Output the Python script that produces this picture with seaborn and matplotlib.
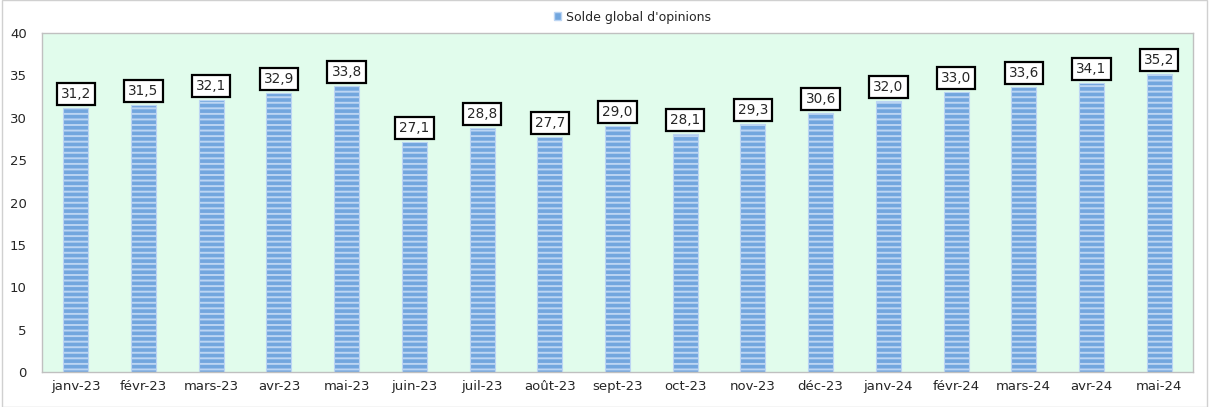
import matplotlib
matplotlib.use("Agg")
import matplotlib.pyplot as plt
import seaborn as sns
import pandas as pd
from matplotlib.patches import Patch

# Data
months = ["janv-23", "févr-23", "mars-23", "avr-23", "mai-23", "juin-23", "juil-23",
          "août-23", "sept-23", "oct-23", "nov-23", "déc-23", "janv-24", "févr-24",
          "mars-24", "avr-24", "mai-24"]
solde = [31.2, 31.5, 32.1, 32.9, 33.8, 27.1, 28.8, 27.7, 29.0, 28.1, 29.3, 30.6,
         32.0, 33.0, 33.6, 34.1, 35.2]
series_name = "Solde global d'opinions"

df = pd.DataFrame({"Mois": months, "Solde": solde})

sns.set_style("white")
plt.rcParams['font.family'] = ['DejaVu Sans']
plt.rcParams['hatch.linewidth'] = 1.4

fig = plt.figure(figsize=(12.12, 4.07), dpi=100)
ax = fig.add_axes([42 / 1212, 1 - 372 / 407, (1193 - 42) / 1212, (372 - 33) / 407])

# === Bars ===
sns.barplot(data=df, x="Mois", y="Solde", ax=ax, color="#72a6de", width=0.37,
            saturation=1, errorbar=None)
for p in ax.patches:
    p.set_hatch("---")
    p.set_edgecolor("#bcd5f3")
    p.set_linewidth(0.8)

# Data labels in boxes
for i, v in enumerate(solde):
    ax.annotate(f"{v:.1f}".replace(".", ","), xy=(i, v), xytext=(0, 5),
                textcoords="offset points", ha="center", va="bottom", fontsize=9.8,
                bbox=dict(boxstyle="square,pad=0.3", fc="white", ec="black", lw=1.6))

ax.set_facecolor("#e1fcec")
ax.set_ylim(0, 40)
ax.set_xlim(-0.5, len(months) - 0.5)
ax.set_yticks(range(0, 41, 5))
ax.set_xlabel("")
ax.set_ylabel("")
ax.tick_params(axis="both", labelsize=9.5, length=0, pad=6)
ax.tick_params(axis="y", pad=11)
for s in ax.spines.values():
    s.set_color("#c0c0c0")
    s.set_linewidth(1)

# Legend at top
handle = Patch(facecolor="#72a6de", edgecolor="#bcd5f3")
fig.legend([handle], [series_name], loc="center", bbox_to_anchor=(0.522, 0.958),
           frameon=False, fontsize=9, handlelength=0.6, handleheight=0.6,
           handletextpad=0.4)

# Outer frame
fig.add_artist(plt.Rectangle((0.002, 0.0), 0.994, 0.999, transform=fig.transFigure,
                             fill=False, ec="#d0d0d0", lw=1))

fig.savefig("out.png", dpi=100)
